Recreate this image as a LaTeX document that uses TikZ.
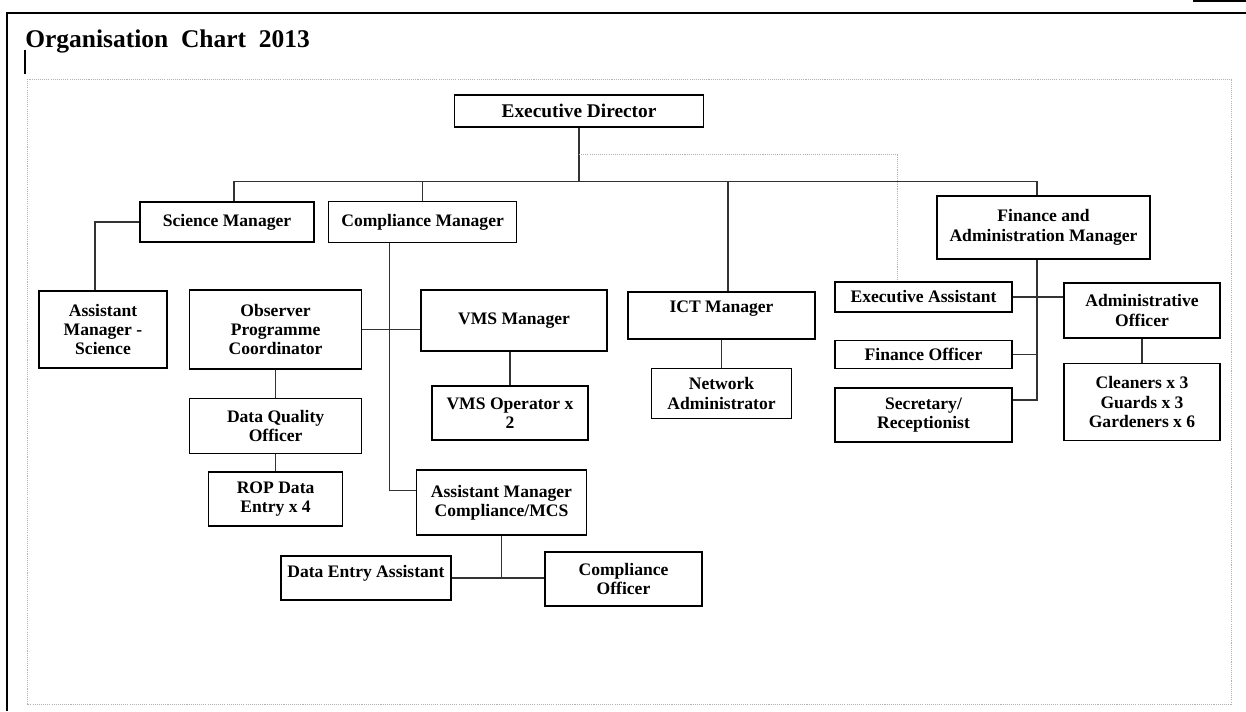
\documentclass[tikz,border=0pt]{standalone}
\usepackage{fontspec}
\setmainfont{Liberation Serif}
\usetikzlibrary{positioning}

\newcommand{\boxfont}{\fontsize{10}{11}\selectfont\bfseries}
\newcommand{\titlefont}{\fontsize{14.5}{16}\selectfont\bfseries}

\begin{document}
\begin{tikzpicture}[x=0.2mm,y=-0.2mm]
    \tikzstyle{block} = [rectangle,draw=black,line width=0.9pt,fill=white,align=center,inner sep=2pt,font=\boxfont]
    \tikzstyle{link} = [draw=black!80,line width=0.8pt]
    \tikzstyle{dotline} = [draw=gray!60,line width=0.5pt,dash pattern=on 0.6pt off 0.6pt]

    \useasboundingbox (0,0) rectangle (1246,711);

    % page frame
    \draw [line width=1.3pt] (7,711) -- (7,13) -- (1246,13);
    \draw [line width=0.6pt] (1193,1) -- (1246,1);
    \node (title) [anchor=base west,font=\titlefont,inner sep=0pt] at (25,47) {Organisation\ \ Chart\ \ 2013};
    \draw [line width=1.2pt] (25,50) -- (25,74);
    \draw [dotline] (27,79) rectangle (1231,704);

    \node (ed) [block,minimum width=4.98cm,minimum height=0.64cm,font=\fontsize{11}{12}\selectfont\bfseries] at (579,111) {Executive Director};

    \node (sci) [block,minimum width=3.48cm,minimum height=0.8cm] at (227,222) {Science Manager};
    \node (comp) [block,minimum width=3.76cm,minimum height=0.82cm,right=0.26cm of sci] {Compliance Manager};
    \node (fin) [block,minimum width=4.26cm,minimum height=1.26cm] at (1043.5,227.5) {Finance and\\Administration Manager};

    \node (ams) [block,minimum width=2.56cm,minimum height=1.54cm] at (103,329.5) {Assistant\\Manager -\\Science};
    \node (opc) [block,minimum width=3.44cm,minimum height=1.58cm,right=0.42cm of ams] {Observer\\Programme\\Coordinator};
    \node (dqo) [block,minimum width=3.44cm,minimum height=1.1cm,below=0.56cm of opc] {Data Quality\\Officer};
    \node (rop) [block,minimum width=2.68cm,minimum height=1.08cm,below=0.34cm of dqo] {ROP Data\\Entry x 4};

    \node (vms) [block,minimum width=3.72cm,minimum height=1.22cm] at (514,320.5) {VMS Manager};
    \node (vmso) [block,minimum width=3.12cm,minimum height=1.08cm] at (510,413) {VMS Operator x\\2};
    \node (amc) [block,minimum width=3.4cm,minimum height=1.3cm] at (501.5,502.5) {Assistant Manager\\Compliance/MCS};
    \node (dea) [block,minimum width=3.4cm,minimum height=0.88cm,text depth=8pt] at (366,578) {Data Entry Assistant};
    \node (co) [block,minimum width=3.14cm,minimum height=1.08cm] at (623.5,579) {Compliance\\Officer};

    \node (ict) [block,minimum width=3.74cm,minimum height=0.94cm,text depth=10pt] at (721.5,315.5) {ICT Manager};
    \node (na) [block,minimum width=2.8cm,minimum height=1cm,below=0.56cm of ict] {Network\\Administrator};

    \node (ea) [block,minimum width=3.54cm,minimum height=0.6cm] at (923.5,297) {Executive Assistant};
    \node (fo) [block,minimum width=3.54cm,minimum height=0.56cm,below=0.54cm of ea] {Finance Officer};
    \node (sec) [block,minimum width=3.54cm,minimum height=1.08cm,below=0.36cm of fo] {Secretary/\\Receptionist};
    \node (ao) [block,minimum width=3.12cm,minimum height=1.1cm] at (1142,310.5) {Administrative\\Officer};
    \node (cl) [block,minimum width=3.12cm,minimum height=1.54cm,below=0.48cm of ao] {Cleaners x 3\\Guards x 3\\Gardeners x 6};

    \coordinate [below=1.08cm of ed.south] (bar);
    \draw [link] (ed.south) -- (bar);
    \draw [link] ([xshift=0.14cm]sci.north) |- (bar) -| ([xshift=-0.13cm]fin.north);
    \draw [link] (comp.north) -- (comp.north |- bar);
    \coordinate (ictup) at ([xshift=0.13cm]ict.north);
    \draw [link] (ictup) -- (ictup |- bar);
    \draw [dotline] ([yshift=-0.54cm]ed.south) -| ([xshift=-0.52cm]ea.north);

    \draw [link] (sci.west) -| ([xshift=-0.16cm]ams.north);
    \draw [link] ([xshift=-0.66cm]comp.south) |- ([yshift=0.24cm]amc.west);
    \draw [link] (opc.east) -- (opc.east -| vms.west);
    \draw [link] (opc) -- (dqo);
    \draw [link] (dqo) -- (rop);
    \draw [link] (vmso.north) -- (vmso.north |- vms.south);
    \draw [link] (amc.south) -- (amc.south |- dea.east);
    \draw [link] (dea.east) -- (dea.east -| co.west);
    \draw [link] (ict) -- (na);

    \coordinate (fv) at ([xshift=-0.13cm]fin.south);
    \draw [link] (fv) |- ([yshift=0.3cm]sec.east);
    \draw [link] (fo.east) -- (fo.east -| fv);
    \draw [link] (ea.east) -- (ea.east -| ao.west);
    \draw [link] (ao) -- (cl);

\end{tikzpicture}
\end{document}
